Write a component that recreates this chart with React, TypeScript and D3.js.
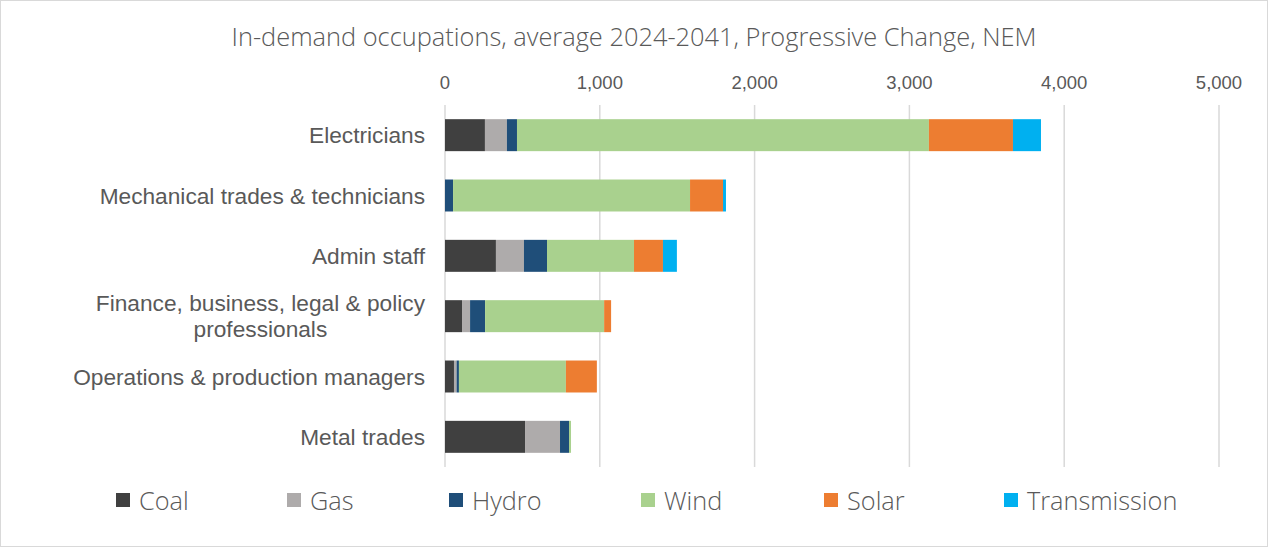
import React, { useEffect, useRef } from "react";
import * as d3 from "d3";

const categories = [
  "Electricians",
  "Mechanical trades & technicians",
  "Admin staff",
  "Finance, business, legal & policy professionals",
  "Operations & production managers",
  "Metal trades",
];
const categoryLines = [
  ["Electricians"],
  ["Mechanical trades & technicians"],
  ["Admin staff"],
  ["Finance, business, legal & policy", "professionals"],
  ["Operations & production managers"],
  ["Metal trades"],
];
const seriesNames = ["Coal", "Gas", "Hydro", "Wind", "Solar", "Transmission"];
const seriesColors = ["#404040", "#aeabab", "#1f4e79", "#a9d18e", "#ed7d31", "#00b0f0"];
const coal = [258, 0, 329, 110, 58, 517];
const gas = [142, 0, 181, 52, 17, 226];
const hydro = [65, 52, 149, 97, 15, 58];
const wind = [2661, 1531, 562, 769, 691, 13];
const solar = [543, 213, 187, 45, 200, 0];
const transmission = [181, 19, 90, 0, 0, 0];
const tickValues = [0, 1000, 2000, 3000, 4000, 5000];
const title = "In-demand occupations, average 2024-2041, Progressive Change, NEM";

const W = 1268;
const H = 547;
const legendX = [116, 287, 449, 641, 824, 1004];

export default function App() {
  const ref = useRef<SVGSVGElement>(null);

  useEffect(() => {
    const svg = d3.select(ref.current);
    svg.selectAll("*").remove();

    const rows = categories.map((c, i) => ({
      category: c,
      Coal: coal[i],
      Gas: gas[i],
      Hydro: hydro[i],
      Wind: wind[i],
      Solar: solar[i],
      Transmission: transmission[i],
    }));

    const x = d3.scaleLinear().domain([0, 5000]).range([445, 1219]);
    const y = d3
      .scaleBand<string>()
      .domain(categories)
      .range([105, 467])
      .paddingInner(0.47)
      .paddingOuter(0.235);
    const color = d3.scaleOrdinal<string, string>().domain(seriesNames).range(seriesColors);

    svg
      .append("rect")
      .attr("x", 0.5)
      .attr("y", 0.5)
      .attr("width", W - 1)
      .attr("height", H - 1)
      .attr("fill", "#fff")
      .attr("stroke", "#d9d9d9");

    // title
    svg
      .append("text")
      .attr("x", 634)
      .attr("y", 36)
      .attr("text-anchor", "middle")
      .attr("dominant-baseline", "central")
      .attr("font-family", "'Open Sans', sans-serif")
      .attr("font-weight", 300)
      .attr("font-size", 25.4)
      .attr("fill", "#595959")
      .text(title);

    // gridlines
    svg
      .append("g")
      .selectAll("line")
      .data(tickValues)
      .join("line")
      .attr("x1", (d) => x(d))
      .attr("x2", (d) => x(d))
      .attr("y1", 105)
      .attr("y2", 467)
      .attr("stroke", "#d9d9d9")
      .attr("stroke-width", 1.5);

    // tick labels
    svg
      .append("g")
      .selectAll("text")
      .data(tickValues)
      .join("text")
      .attr("x", (d) => x(d))
      .attr("y", 82)
      .attr("text-anchor", "middle")
      .attr("dominant-baseline", "central")
      .attr("font-family", "'Liberation Sans', Arial, sans-serif")
      .attr("font-size", 18.5)
      .attr("fill", "#595959")
      .text((d) => d3.format(",")(d));

    // bars
    const stack = d3.stack<any>().keys(seriesNames);
    const series = stack(rows);
    svg
      .append("g")
      .selectAll("g")
      .data(series)
      .join("g")
      .attr("fill", (s) => color(s.key))
      .selectAll("rect")
      .data((s) => s)
      .join("rect")
      .attr("x", (d) => x(d[0]))
      .attr("width", (d) => Math.max(0, x(d[1]) - x(d[0])))
      .attr("y", (d) => y(d.data.category)!)
      .attr("height", y.bandwidth());

    // category labels
    const labelG = svg.append("g");
    categories.forEach((c, i) => {
      const lines = categoryLines[i];
      const cy = y(c)! + y.bandwidth() / 2;
      const lh = 26;
      const g = labelG.append("g");
      const texts = lines.map((ln, j) =>
        g
          .append("text")
          .attr("y", cy + (j - (lines.length - 1) / 2) * lh)
          .attr("dominant-baseline", "central")
          .attr("font-family", "'Liberation Sans', Arial, sans-serif")
          .attr("font-size", 22.7)
          .attr("fill", "#595959")
          .text(ln)
      );
      const widths = texts.map((t) => (t.node() as SVGTextElement).getComputedTextLength());
      const maxW = Math.max(...widths);
      texts.forEach((t) => t.attr("x", 425 - maxW / 2).attr("text-anchor", "middle"));
    });

    // legend
    const lg = svg.append("g");
    seriesNames.forEach((s, i) => {
      lg.append("rect")
        .attr("x", legendX[i])
        .attr("y", 493)
        .attr("width", 14)
        .attr("height", 14)
        .attr("fill", color(s));
      lg.append("text")
        .attr("x", legendX[i] + 23)
        .attr("y", 500)
        .attr("dominant-baseline", "central")
        .attr("font-family", "'Open Sans', sans-serif")
        .attr("font-weight", 300)
        .attr("font-size", 25.3)
        .attr("fill", "#595959")
        .text(s);
    });
  }, []);

  return (
    <div style={{ position: "absolute", left: 0, top: 0 }}>
      <svg ref={ref} width={W} height={H} style={{ display: "block" }} />
    </div>
  );
}
